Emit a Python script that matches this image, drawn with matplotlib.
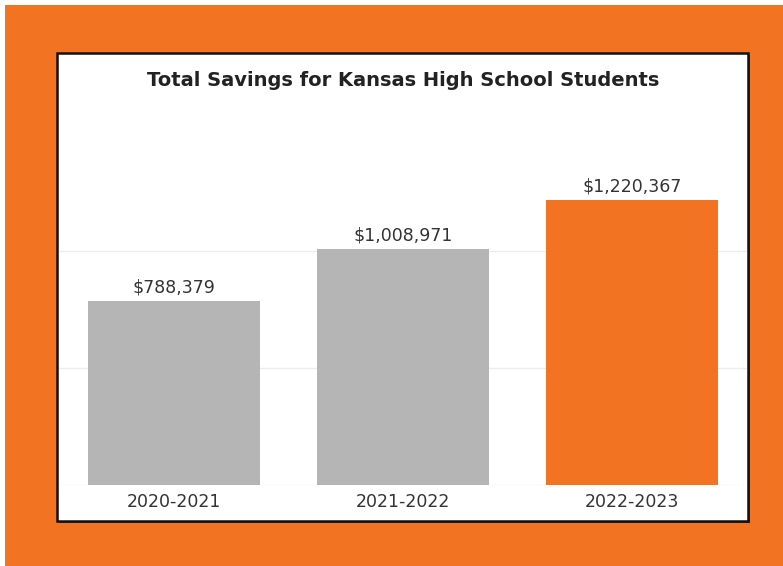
import matplotlib.pyplot as plt
from matplotlib.patches import Rectangle

years = ["2020-2021", "2021-2022", "2022-2023"]
savings = [788379, 1008971, 1220367]
bar_colors = ["#b5b5b5", "#b5b5b5", "#f27422"]

W, H = 783, 566
fig = plt.figure(figsize=(W / 100, H / 100), dpi=100)
fig.patch.set_facecolor("white")

def box(x0, y0, x1, y1, **kw):
    # pixel coords (top-left origin) -> figure coords
    return Rectangle((x0 / W, 1 - y1 / H), (x1 - x0) / W, (y1 - y0) / H,
                     transform=fig.transFigure, **kw)

fig.patches.append(box(5, 5, W, H, facecolor="#f27422", edgecolor="none", zorder=0))
fig.patches.append(box(59, 55, 750, 523, facecolor="#333333", edgecolor="none", zorder=1))
fig.patches.append(box(57, 53, 748, 521, facecolor="white", edgecolor="#111111", lw=1.8, zorder=2))

ax = fig.add_axes([59 / W, 1 - 485 / H, (747 - 59) / W, (485 - 111) / H])
ax.set_zorder(3)
ax.patch.set_alpha(0)

x = range(len(years))
ax.bar(x, savings, width=0.75, color=bar_colors, zorder=2)
for i, v in enumerate(savings):
    ax.text(i, v + 18000, "${:,}".format(v), ha="center", va="bottom",
            fontsize=12.5, color="#333333")

ax.set_xlim(-0.5, 2.5)
ax.set_ylim(0, 1.6e6)
ax.set_yticks([0, 500000, 1000000])
ax.yaxis.grid(True, color="#ececec", lw=1)
ax.set_axisbelow(True)
ax.tick_params(axis="y", left=False, labelleft=False)
ax.set_xticks(list(x))
ax.set_xticklabels(years, fontsize=12.5, color="#333333")
ax.tick_params(axis="x", length=0, pad=6)
for s in ax.spines.values():
    s.set_visible(False)

fig.text(403 / W, 1 - 80 / H, "Total Savings for Kansas High School Students",
         ha="center", va="center", fontsize=14, fontweight="bold",
         color="#222222", zorder=4)

fig.savefig("out.png", dpi=100)
